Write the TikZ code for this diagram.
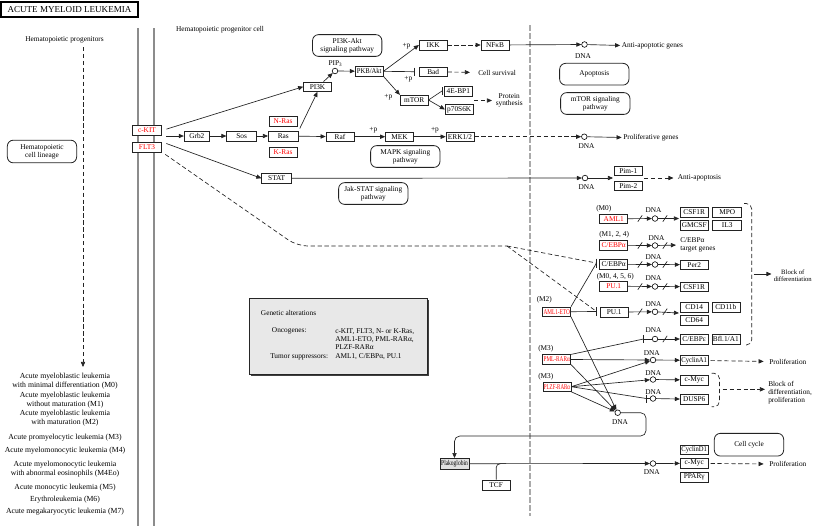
\documentclass[tikz,border=0pt]{standalone}
\usepackage{graphicx}
\usepackage{fontspec}
\setmainfont{Liberation Serif}
\usetikzlibrary{arrows.meta,calc}
\newcommand\lf{\fontsize{5.5}{5.8}\selectfont}
\newcommand\gf{\fontsize{5.5}{6}\selectfont}
\newcommand\lkf{\fontsize{5.8}{4.7}\selectfont}
\newcommand\sq[2]{\scalebox{#1}[1]{#2}}
\definecolor{kred}{RGB}{255,0,0}
\definecolor{lnc}{RGB}{35,35,35}
\definecolor{memc}{RGB}{140,140,140}
\definecolor{nucc}{RGB}{170,170,170}
\definecolor{boxg}{RGB}{232,232,232}
\begin{document}
\begin{tikzpicture}[x=0.75pt,y=-0.75pt,
  gene/.style={draw=lnc, line width=0.45pt, fill=white, minimum width=21pt, minimum height=7.2pt, inner sep=0pt, font=\gf},
  rgene/.style={gene, text=kred},
  pw/.style={draw=lnc, line width=0.6pt, rounded corners=4.5pt, align=center, font=\lf, minimum width=52pt, minimum height=16.3pt, inner sep=0pt},
  dna/.style={circle, draw=black, line width=0.45pt, fill=white, minimum size=4.2pt, inner sep=0pt},
  txt/.style={font=\lf, inner sep=0pt, align=center},
  lk/.style={font=\lkf, inner sep=0pt, align=center},
  conn/.style={draw=lnc, line width=0.5pt},
  arr/.style={conn, -{Triangle[length=3.8pt,width=3.2pt]}},
  dsh/.style={dash pattern=on 3.2pt off 2pt},
  membrane/.style={draw=memc, line width=1.8pt},
  nucline/.style={draw=nucc, line width=2.2pt, dash pattern=on 4.5pt off 1.5pt},
]
\useasboundingbox (0,0) rectangle (813,526);

% ---------- background structures ----------
\draw[membrane] (138,28) -- (138,526);
\draw[membrane] (154,28) -- (154,526);
\draw[nucline] (530,25) -- (530,516);

% ---------- title and left column ----------
\node[draw=black, line width=0.9pt, minimum width=102.7pt, minimum height=11.2pt, inner sep=0pt, font=\fontsize{6.8}{7}\selectfont] (title) at (69.5,9.5) {ACUTE MYELOID LEUKEMIA};
\node[txt] (hpc) at (220,29.5) {Hematopoietic progenitor cell};
\node[txt] (hp) at (64.5,40) {Hematopoietic progenitors};
\node[pw, minimum height=17pt] (hcl) at (42,151.5) {Hematopoietic\\cell lineage};
\coordinate (hpa) at (83,47);
\coordinate (hpb) at (83,367);

\node[lk] (m0) at (65,381) {Acute myeloblastic leukemia\\with minimal differentiation (M0)};
\node[lk] (m1) at (65,400) {Acute myeloblastic leukemia\\without maturation (M1)};
\node[lk] (m2) at (65,418) {Acute myeloblastic leukemia\\with maturation (M2)};
\node[lk] (m3) at (65,438) {Acute promyelocytic leukemia (M3)};
\node[lk] (m4) at (65,451) {Acute myelomonocytic leukemia (M4)};
\node[lk] (m4eo) at (65,469) {Acute myelomonocytic leukemia\\with abnormal eosinophils (M4Eo)};
\node[lk] (m5) at (65,488) {Acute monocytic leukemia (M5)};
\node[lk] (m6) at (65,500) {Erythroleukemia (M6)};
\node[lk] (m7) at (65,512) {Acute megakaryocytic leukemia (M7)};

% ---------- genetic alterations box ----------
\fill[black!75] (251,300) rectangle (429,376);
\node[draw=black!85, fill=boxg, line width=0.9pt, minimum width=133.5pt, minimum height=57pt, inner sep=0pt] (gabox) at (338.3,336.3) {};
\node[txt, anchor=west] (gat) at (260.7,312.7) {Genetic alterations};
\node[txt, anchor=west] (onc) at (271.7,331) {Oncogenes:};
\node[txt, anchor=west, align=left] (oncl) at (335,339) {c-KIT, FLT3, N- or K-Ras,\\AML1-ETO, PML-RARα,\\PLZF-RARα};
\node[txt, anchor=west] (tsl) at (270,356.7) {Tumor suppressors:};
\node[txt, anchor=west] (tsv) at (335,356.7) {AML1, C/EBPα, PU.1};

% ---------- pathway boxes ----------
\node[pw] (pi3kpw) at (347.2,45.5) {PI3K-Akt\\signaling pathway};
\node[pw] (mapkpw) at (405.3,156.5) {MAPK signaling\\pathway};
\node[pw] (apop) at (594.3,74.2) {Apoptosis};
\node[pw] (mtorpw) at (595.3,103.5) {mTOR signaling\\pathway};
\node[pw] (jakpw) at (373.3,193.5) {Jak-STAT signaling\\pathway};
\node[pw, minimum height=17pt] (cellcyc) at (749,444.7) {Cell cycle};

% ---------- upstream genes ----------
\node[rgene, minimum width=22pt] (ckit) at (147,130.5) {c-KIT};
\node[rgene, minimum width=22pt] (flt3) at (147,147) {FLT3};
\node[gene, minimum width=19pt] (grb2) at (196.8,136) {Grb2};
\node[gene, minimum width=22.5pt] (sos) at (241.7,136) {Sos};
\node[gene, minimum width=22.5pt] (ras) at (283.3,136) {Ras};
\node[rgene] (nras) at (283,121.3) {N-Ras};
\node[rgene] (kras) at (283,152.3) {K-Ras};
\node[gene] (pi3k) at (317.5,86.7) {PI3K};
\node[dna] (pip3) at (335,71) {};
\node[txt] (pip3l) at (335.5,63.5) {PIP\textsubscript{3}};
\node[gene] (akt) at (369.2,71.3) {\sq{0.9}{PKB/Akt}};
\node[gene] (ikk) at (433.2,45) {IKK};
\node[gene] (nfkb) at (495,45) {NFκB};
\node[gene] (bad) at (433.2,71.7) {Bad};
\node[gene] (mtor) at (414.2,100) {mTOR};
\node[gene] (ebp1) at (458.3,91) {4E-BP1};
\node[gene] (p70) at (459.2,109.5) {p70S6K};
\node[gene] (raf) at (340,136.7) {Raf};
\node[gene] (mek) at (399.5,136.7) {MEK};
\node[gene] (erk) at (460,136.7) {ERK1/2};
\node[gene, minimum width=22.5pt] (stat) at (276.7,178.3) {STAT};

\node[txt] (p1) at (406.5,46.5) {+p};
\node[txt] (p2) at (408.3,79) {+p};
\node[txt] (p3) at (388.3,97.3) {+p};
\node[txt] (p4) at (373.3,130.7) {+p};
\node[txt] (p5) at (435,130.7) {+p};

\node[dna] (dna1) at (584.5,44.5) {};
\node[txt] (dna1l) at (583,56) {DNA};
\node[dna] (dna2) at (584.3,136.7) {};
\node[txt] (dna2l) at (586.5,146) {DNA};
\node[dna] (dna3) at (585,178) {};
\node[txt] (dna3l) at (586.5,187.5) {DNA};
\node[txt, anchor=west] (aag) at (621.5,45.5) {Anti-apoptotic genes};
\node[txt, anchor=west] (csurv) at (478,72.5) {Cell survival};
\node[txt] (psyn) at (509.2,100.3) {Protein\\synthesis};
\node[txt, anchor=west] (prolg) at (623,137.5) {Proliferative genes};
\node[gene] (pim1) at (628.3,170.7) {Pim-1};
\node[gene] (pim2) at (628.3,185.8) {Pim-2};
\node[txt, anchor=west] (antia) at (677.5,178) {Anti-apoptosis};

% ---------- nuclear panel ----------
\node[txt, anchor=west] (m0l) at (596,209) {(M0)};
\node[rgene] (aml1) at (613.7,218.8) {AML1};
\node[txt, anchor=west] (m124l) at (599,235) {(M1, 2, 4)};
\node[rgene] (cebpar) at (613.7,245.3) {C/EBPα};
\node[gene] (cebpa) at (613.7,264.3) {C/EBPα};
\node[txt, anchor=west] (m0456l) at (596.5,276.7) {(M0, 4, 5, 6)};
\node[rgene] (pu1r) at (613.7,286.2) {PU.1};
\node[gene] (pu1) at (614.2,312) {PU.1};
\node[txt, anchor=west] (m2l) at (536.5,300) {(M2)};
\node[rgene] (amleto) at (556.7,311.7) {\sq{0.72}{AML1-ETO}};
\node[txt, anchor=west] (m3la) at (538,349) {(M3)};
\node[rgene] (pml) at (556.7,359.5) {\sq{0.72}{PML-RARα}};
\node[txt, anchor=west] (m3lb) at (538,376.7) {(M3)};
\node[rgene] (plzf) at (557,386.7) {\sq{0.68}{PLZF-RARα}};

\node[dna] (dA) at (655,218.5) {}; \node[txt] (dAl) at (653.5,210.5) {DNA};
\node[dna] (dB) at (655,245.5) {}; \node[txt] (dBl) at (656.5,238.3) {DNA};
\node[dna] (dC) at (655,264.5) {}; \node[txt] (dCl) at (653.5,257.3) {DNA};
\node[dna] (dD) at (655,286.5) {}; \node[txt] (dDl) at (653.5,278.5) {DNA};
\node[dna] (dE) at (655,311.8) {}; \node[txt] (dEl) at (653.5,304.5) {DNA};
\node[dna] (dF) at (655,339) {}; \node[txt] (dFl) at (653.5,330.5) {DNA};
\node[dna] (dG) at (653,360) {}; \node[txt] (dGl) at (651.7,353) {DNA};
\node[dna] (dH) at (653,379.5) {}; \node[txt] (dHl) at (653.3,373) {DNA};
\node[dna] (dI) at (653,398.5) {}; \node[txt] (dIl) at (653.3,392) {DNA};
\node[dna] (dJ) at (617.7,412.7) {}; \node[txt] (dJl) at (620,421.7) {DNA};
\node[dna] (dK) at (653,463.5) {}; \node[txt] (dKl) at (651.7,471.7) {DNA};

\node[gene] (csf1ra) at (694.2,212.5) {CSF1R};
\node[gene, minimum width=21.7pt] (mpo) at (727.2,212.5) {MPO};
\node[gene] (gmcsf) at (694.2,225) {GMCSF};
\node[gene, minimum width=21.7pt] (il3) at (727.2,225) {IL3};
\node[txt, anchor=west, align=left] (cebptg) at (680,245) {C/EBPα\\target genes};
\node[gene] (per2) at (694.2,264.7) {Per2};
\node[gene] (csf1rb) at (694.2,286.7) {CSF1R};
\node[gene] (cd14) at (694.2,307.3) {CD14};
\node[gene] (cd11b) at (725.8,307.3) {CD11b};
\node[gene] (cd64) at (694.2,320.3) {CD64};
\node[gene] (cebpe) at (694.2,339) {C/EBPε};
\node[gene] (bfl) at (725.8,339) {Bfl.1/A1};
\node[gene] (cyca1) at (694.2,360.3) {\sq{0.9}{CyclinA1}};
\node[gene] (cmyca) at (694.2,380) {c-Myc};
\node[gene] (dusp6) at (694.2,399.3) {DUSP6};
\node[gene] (cycd1) at (694.2,449.7) {\sq{0.9}{CyclinD1}};
\node[gene] (cmycb) at (694.2,463.3) {c-Myc};
\node[gene] (pparg) at (694.2,477) {PPARγ};
\node[gene, fill=black!12, minimum width=21.7pt, minimum height=8pt] (plako) at (454.5,463.7) {\sq{0.75}{Plakoglobin}};
\node[gene, minimum height=8pt] (tcf) at (496.2,485.3) {TCF};

\node[txt, anchor=west, font=\fontsize{5}{5.6}\selectfont] (bod) at (773.5,275.5) {Block of\\differentiation};
\node[txt, anchor=west, align=left] (bodp) at (768,392.5) {Block of\\differentiation,\\proliferation};
\node[txt, anchor=west] (prol1) at (769,361.5) {Proliferation};
\node[txt, anchor=west] (prol2) at (769,464) {Proliferation};

% ---------- connectors: left ----------
\draw[arr, dsh] (hpa) -- (hpb);

% ---------- connectors: signalling ----------
\coordinate (rcv) at (166,136);
\draw[arr] (rcv) -- (grb2);
\draw[arr] (grb2) -- (sos);
\draw[arr] (sos) -- (ras);
\draw[arr] (ras) -- (raf);
\draw[arr] (raf) -- (mek);
\draw[arr] (mek) -- (erk);
\draw[arr, dsh] (erk) -- (dna2);
\draw[arr, shorten >=1pt] (dna2) -- (prolg.west);
\draw[arr, shorten <=3.5pt] (ckit.east) -- (pi3k.west);
\draw[arr, shorten <=3.5pt] (flt3.north east) -- (stat.west);
\draw[arr, shorten <=2pt] (ras.north east) -- (pi3k.south);
\draw[arr] ([xshift=4.5pt]pi3k.north) -- (pip3);
\draw[arr] (pip3) -- (akt);
\draw[arr] (akt.east) -- (ikk.west);
\coordinate (tBad) at (414,71.7);
\draw[conn] (akt.east) -- (tBad);
\draw[conn] (414,67.7) -- (414,75.7);
\draw[arr] (akt.south east) -- (mtor.north west);
\draw[arr, dsh] (ikk) -- (nfkb);
\draw[arr] (nfkb) -- (dna1);
\draw[arr, shorten >=1pt] (dna1) -- (aag.west);
\draw[arr, dsh, shorten >=6pt] (bad) -- (csurv.west);
\coordinate (tEB) at (442,91);
\draw[conn] (mtor.east) -- (tEB);
\draw[conn] (442,87) -- (442,95);
\draw[arr] (mtor.east) -- (p70.west);
\coordinate (ps0) at (474,100.5);
\coordinate (ps1) at (492,100.5);
\draw[arr, dsh] (ps0) -- (ps1);
\draw[arr] (stat) -- (dna3);
\coordinate (pimc) at (613,178);
\draw[arr] (dna3) -- (pimc);
\coordinate (pimr) at (644,178);
\draw[arr, dsh, shorten >=3pt] (pimr) -- (antia.west);

% ---------- dashed FLT3 branch ----------
\coordinate (fj) at (507,246);
\coordinate (tC) at (596.5,263);
\coordinate (tE) at (596.5,311.5);
\draw[conn, dsh, rounded corners=8pt, shorten <=3pt] (flt3.south east) -- (297,246) -- (fj);
\draw[conn, dsh] (fj) -- (tC);
\draw[conn, dsh] (fj) -- (tE);
\draw[conn] (596.5,258.5) -- (596.5,267.5);
\draw[conn] (596.5,307) -- (596.5,316);
\draw[conn] (amleto.north east) -- (tC);
\draw[conn] (amleto.east) -- (tE);

% ---------- connectors: nuclear panel ----------
\coordinate (tA) at (679,218.5);
\draw[arr] (aml1) -- (dA);
\draw[arr] (dA) -- (tA);
\draw[arr] (cebpar) -- (dB);
\draw[arr, shorten >=3pt] (dB) -- (cebptg.west);
\draw[arr] (cebpa) -- (dC);
\draw[arr] (dC) -- (per2);
\draw[arr] (pu1r) -- (dD);
\draw[arr] (dD) -- (csf1rb);
\draw[arr] (pu1) -- (dE);
\coordinate (tE2) at (679,313);
\draw[arr] (dE) -- (tE2);
\coordinate (tF) at (643.5,339);
\draw[conn] (tF) -- (dF);
\draw[conn] (643.5,335) -- (643.5,343);
\draw[arr] (dF) -- (cebpe);
\draw[arr] (dG) -- (cyca1);
\draw[arr] (dH) -- (cmyca);
\coordinate (tI) at (646.3,398.5);
\draw[conn] (tI) -- (dI);
\draw[conn] (646.3,394.5) -- (646.3,402.5);
\draw[arr] (dI) -- (dusp6);

\foreach \x/\y in {640/218.5,665/218.5,640/245.5,665/245.5,640/264.5,665/264.5,640/286.5,665/286.5,640/311.8,665/311.8,665/339}
  {\draw[conn] (\x-2.2,\y+3.2) -- (\x+2.2,\y-3.2);}

\draw[arr] (pml.east) -- (dG);
\draw[conn] (pml.north east) -- (tF);
\draw[arr] (pml.south east) -- (dJ);
\draw[arr] (plzf.east) -- (dG);
\draw[arr] (plzf.east) -- (dH);
\draw[conn] (plzf.east) -- (tI);
\draw[arr] (plzf.south east) -- (dJ);
\draw[arr] (amleto.south east) -- (dJ);

\draw[arr, rounded corners=4pt] (dJ.east) -- (646,412.7) -- (646,436) -| (plako.north);
\draw[arr] (plako) -- (dK);
\draw[arr] (dK) -- (cmycb);
\draw[conn, rounded corners=3pt] (tcf.north) -- (496.2,463.6) -- (506,463.6);

\draw[arr, dsh, shorten <=1.5pt, shorten >=4pt] (cyca1) -- (prol1.west);
\draw[arr, dsh, shorten <=1.5pt, shorten >=4pt] (cmycb) -- (prol2.west);

% brackets
\draw[conn, dsh, rounded corners=4pt] (744,203.5) -- (751.7,203.5) -- (751.7,345) -- (744,345);
\coordinate (b1) at (753.5,274);
\draw[arr, shorten >=1.5pt] (b1) -- (bod.west |- b1);
\draw[conn, dsh, rounded corners=4pt] (711.7,373.3) -- (719.5,373.3) -- (719.5,406.7) -- (711.7,406.7);
\coordinate (b2) at (722.7,389.3);
\coordinate (b2e) at (765,389.3);
\draw[arr, dsh] (b2) -- (b2e);
\end{tikzpicture}
\end{document}
